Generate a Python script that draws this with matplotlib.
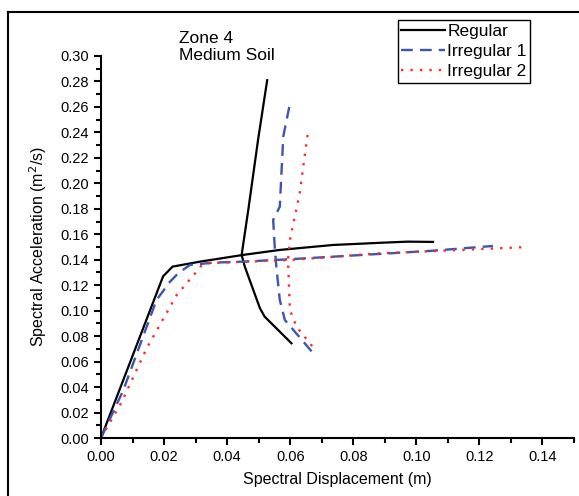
import matplotlib
matplotlib.use("Agg")
import matplotlib.pyplot as plt
from matplotlib.lines import Line2D
from matplotlib.ticker import MultipleLocator

plt.rcParams['font.family'] = ['Liberation Sans', 'DejaVu Sans']

# capacity curves (Sd, Sa)
reg_sd = [0.0, 0.0197, 0.0227, 0.0314, 0.0451, 0.0567, 0.0736, 0.0894, 0.0973, 0.1053]
reg_sa = [0.0, 0.127, 0.1346, 0.1385, 0.1438, 0.1477, 0.1516, 0.1534, 0.1542, 0.154]
irr1_sd = [0.0, 0.0071, 0.0176, 0.0219, 0.0245, 0.0282, 0.0356, 0.0451, 0.0599, 0.0831, 0.1042, 0.1243]
irr1_sa = [0.0, 0.0377, 0.1084, 0.1228, 0.1294, 0.1359, 0.1377, 0.1385, 0.1404, 0.1438, 0.1469, 0.1508]
irr2_sd = [0.0, 0.0066, 0.0145, 0.024, 0.0303, 0.0324, 0.0599, 0.0884, 0.1355]
irr2_sa = [0.0, 0.0285, 0.0705, 0.1123, 0.1306, 0.1372, 0.1398, 0.145, 0.150]

# demand curves
reg_d_sd = [0.0527, 0.0498, 0.0467, 0.0446, 0.0456, 0.0504, 0.0519, 0.0604]
reg_d_sa = [0.281, 0.234, 0.179, 0.1438, 0.1346, 0.1019, 0.0953, 0.0744]
irr1_d_sd = [0.0597, 0.0578, 0.0567, 0.0546, 0.0551, 0.0556, 0.0567, 0.0583, 0.0668]
irr1_d_sa = [0.260, 0.2367, 0.1817, 0.1713, 0.150, 0.1346, 0.1084, 0.0927, 0.068]
irr2_d_sd = [0.0655, 0.063, 0.0599, 0.0593, 0.0599, 0.062, 0.0683]
irr2_d_sa = [0.238, 0.1922, 0.1555, 0.1398, 0.1005, 0.0874, 0.068]

labels = ['Regular', 'Irregular 1', 'Irregular 2']

fig = plt.figure(figsize=(5.79, 4.96), dpi=100)
ax = fig.add_axes([101/579, 58/496, 473/579, 382/496])

blue = '#3a55b4'
red = '#ff2a2a'
ax.plot(reg_sd, reg_sa, color='black', lw=1.6, label=labels[0])
ax.plot(reg_d_sd, reg_d_sa, color='black', lw=1.6)
ax.plot(irr1_sd, irr1_sa, color=blue, lw=1.7, dashes=(5, 3), label=labels[1])
ax.plot(irr1_d_sd, irr1_d_sa, color=blue, lw=1.7, dashes=(5, 3))
ax.plot(irr2_sd, irr2_sa, color=red, lw=1.7, dashes=(1, 3), label=labels[2])
ax.plot(irr2_d_sd, irr2_d_sa, color=red, lw=1.7, dashes=(1, 3))

ax.set_xlim(0, 0.15)
ax.set_ylim(0, 0.30)
ax.xaxis.set_major_locator(MultipleLocator(0.02))
ax.xaxis.set_minor_locator(MultipleLocator(0.01))
ax.yaxis.set_major_locator(MultipleLocator(0.02))
ax.yaxis.set_minor_locator(MultipleLocator(0.01))
ax.xaxis.set_major_formatter(lambda v, p: f'{v:.2f}')
ax.yaxis.set_major_formatter(lambda v, p: f'{v:.2f}')
for s in ['top', 'right']:
    ax.spines[s].set_visible(False)
for s in ['left', 'bottom']:
    ax.spines[s].set_linewidth(1.5)
ax.tick_params(which='major', length=5, width=1.5, labelsize=10.5, direction='out')
ax.tick_params(which='minor', length=3.5, width=1.5, direction='out')

ax.set_xlabel('Spectral Displacement (m)', fontsize=11.5, labelpad=6)
ax.set_ylabel('Spectral Acceleration (m$^2$/s)', fontsize=11.5, labelpad=8)

fig.text(179/579, 1 - 31/496, 'Zone 4\nMedium Soil', fontsize=12.5, va='top', ha='left',
         linespacing=1.2)

leg = ax.legend(loc='upper left', bbox_to_anchor=(398/579, 1 - 20/496),
                bbox_transform=fig.transFigure, fontsize=12.5, fancybox=False,
                edgecolor='black', framealpha=1, handlelength=2.5, handletextpad=0.15,
                borderpad=0.2, labelspacing=0.3, borderaxespad=0)
leg.get_frame().set_linewidth(1.0)

# outer frame
fig.add_artist(Line2D([8/579, 8/579], [0, 1 - 12/496], transform=fig.transFigure,
                      color='black', lw=1.5))
fig.add_artist(Line2D([8/579, 1], [1 - 12/496, 1 - 12/496], transform=fig.transFigure,
                      color='black', lw=1.5))

fig.savefig('out.png', dpi=100)
